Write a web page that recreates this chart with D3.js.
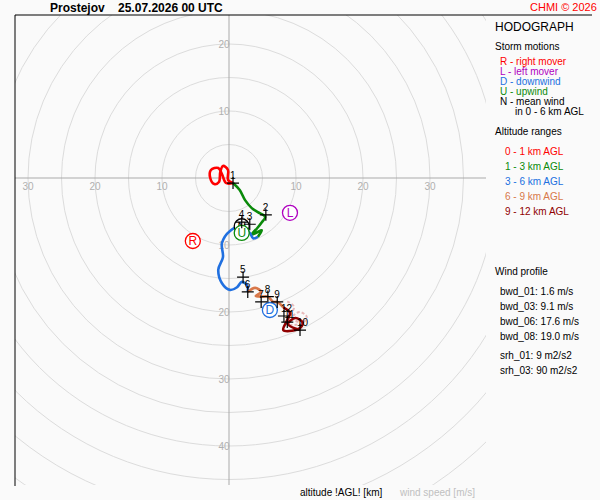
<!DOCTYPE html>
<html><head><meta charset="utf-8">
<script src="https://cdn.jsdelivr.net/npm/d3@7"></script>
<style>body{margin:0;background:#fafafa}text{font-family:"Liberation Sans",Arial,sans-serif}</style>
</head><body><svg id="c" width="600" height="500"></svg>
<script>
// hodograph segments, [u, v] in m/s
var seg01 = [[0.6,-0.75],[-0.45,-0.75],[-1.05,0.6],[-1.6,1.5],[-2.7,1.2],[-2.8,0],[-2.2,-0.9],[-1.5,-0.6],[-1.3,0.9],[-0.9,1.8],[-0.15,1.2],[-0.15,-0.3],[0.6,-0.75]];
var seg13 = [[0.6,-0.75],[1.6,-1.8],[2.4,-3.3],[3.4,-4.5],[4.3,-5.1],[5.4,-5.8],[4.9,-6.6],[4.2,-7.5],[3.4,-8.4],[4.0,-8.2],[4.9,-7.8],[4.3,-8.8]];
var seg36 = [[4.3,-8.8],[3.6,-9.0],[3.1,-8.2],[1.6,-7.3],[0.15,-7.9],[-1.05,-9.7],[-0.9,-11.8],[-1.6,-13.7],[-1.05,-15.7],[0.15,-16.7],[1.2,-16.3],[1.9,-15.5],[2.7,-16.0],[2.8,-17.0]];
var seg69 = [[2.8,-17.0],[3.9,-16.4],[4.8,-17.0],[4.0,-17.6],[4.9,-17.7],[5.8,-17.7],[6.6,-18.5],[7.2,-18.5],[8.1,-19.3]];
var seg912 = [[8.1,-19.3],[9.1,-20.1],[8.7,-21.2],[8.1,-22.7],[9.4,-22.8],[10.6,-22.4],[11.0,-21.6],[9.9,-20.9],[8.8,-21.8],[10.6,-22.7]];
var segColors = ["#ff0000","#0a8a0a","#2070e0","#d8784a","#900000"];
var heights = [1,2,3,4,5,6,7,8,9,10,11,12];
var heightUV = [[0.6,-0.75],[5.5,-5.5],[3.1,-6.9],[1.9,-6.6],[2.1,-14.8],[2.8,-17.0],[4.8,-18.5],[5.8,-17.7],[7.2,-18.5],[10.6,-22.7],[8.7,-21.5],[8.2,-20.6]];
// drawn in this order (N under U)
var stormLetters = ["N","R","L","D","U"];
var stormUV = [[1.9,-7.2],[-5.4,-9.4],[9.1,-5.2],[6.1,-19.7],[1.9,-8.2]];
var stormColors = ["#000000","#ff0000","#b000c0","#2070e0","#0a8a0a"];
var stormNames = ["R - right mover","L - left mover","D - downwind","U - upwind","N - mean wind"];
var stormNameColors = ["#ff0000","#b000c0","#2070e0","#0a8a0a","#000000"];
var ringSpeeds = d3.range(5, 75, 5);
var axisTicks = [10,20,30,40];

var svg = d3.select("#c");
var x = d3.scaleLinear().domain([0,10]).range([229,296]);
var y = d3.scaleLinear().domain([0,10]).range([178,111]);
var pxPer = 6.7;

svg.append("defs").append("clipPath").attr("id","pc").append("rect")
    .attr("x",15).attr("y",15).attr("width",471).attr("height",470);
var plot = svg.append("g").attr("clip-path","url(#pc)");

plot.selectAll("circle.ring").data(ringSpeeds).enter().append("circle")
    .attr("cx",x(0)).attr("cy",y(0)).attr("r",function(d){return d*pxPer;})
    .attr("fill","none").attr("stroke","#dcdcdc");
plot.append("line").attr("x1",15).attr("x2",486).attr("y1",y(0)).attr("y2",y(0)).attr("stroke","#aaa");
plot.append("line").attr("x1",x(0)).attr("x2",x(0)).attr("y1",15).attr("y2",486).attr("stroke","#aaa");

var lab = plot.append("g").attr("fill","#b0b0b0").attr("font-size",10).attr("text-anchor","middle");
axisTicks.forEach(function(t){
    lab.append("text").attr("x",x(-t)).attr("y",y(0)+12).text(t);
    if (t < 40) lab.append("text").attr("x",x(t)).attr("y",y(0)+12).text(t);
    if (t < 30) lab.append("text").attr("x",x(0)-5).attr("y",y(t)+4).text(t);
    lab.append("text").attr("x",x(0)-5).attr("y",y(-t)+4).text(t);
});

var line = d3.line().x(function(d){return x(d[0]);}).y(function(d){return y(d[1]);}).curve(d3.curveCatmullRom);
// faint upper-level trace
plot.append("path").datum(seg912.map(function(d){return [d[0]+0.6,d[1]+0.9];}))
    .attr("d",line).attr("fill","none").attr("stroke","#e8b8b8").attr("stroke-width",2).attr("stroke-dasharray","3,2");
[seg01,seg13,seg36,seg69,seg912].forEach(function(s,i){
    plot.append("path").datum(s).attr("d",line).attr("fill","none")
        .attr("stroke",segColors[i]).attr("stroke-width",2.6).attr("stroke-linejoin","round");
});

var st = plot.selectAll("g.storm").data(stormLetters).enter().append("g")
    .attr("transform",function(d,i){return "translate("+x(stormUV[i][0])+","+y(stormUV[i][1])+")";});
st.append("circle").attr("r",7.5).attr("fill","#fff").attr("stroke",function(d,i){return stormColors[i];}).attr("stroke-width",1.3);
st.append("text").attr("text-anchor","middle").attr("dy","0.36em").attr("font-size",12)
    .attr("fill",function(d,i){return stormColors[i];}).text(function(d){return d;});

var hm = plot.selectAll("g.hm").data(heights).enter().append("g")
    .attr("transform",function(d,i){return "translate("+x(heightUV[i][0])+","+y(heightUV[i][1])+")";});
hm.append("path").attr("d","M-6,0H6M0,-6V6").attr("stroke","#000").attr("stroke-width",1.2);
hm.append("text").attr("x",-3).attr("y",-4).attr("font-size",10).attr("fill","#000").text(function(d){return d;});

svg.append("path").attr("d","M15,486V15H592").attr("fill","none").attr("stroke","#000");

svg.append("text").attr("x",50).attr("y",12).attr("font-size",12).attr("font-weight","bold").attr("xml:space","preserve").text("Prostejov    25.07.2026 00 UTC");
svg.append("text").attr("x",530).attr("y",11).attr("font-size",11).attr("fill","#ff0000").text("CHMI © 2026");

var leg = svg.append("g").attr("font-size",10);
leg.append("text").attr("x",495).attr("y",31).attr("font-size",12).text("HODOGRAPH");
leg.append("text").attr("x",495).attr("y",50).text("Storm motions");
stormNames.forEach(function(n,i){
    leg.append("text").attr("x",500).attr("y",65+i*10).attr("fill",stormNameColors[i]).text(n);
});
leg.append("text").attr("x",515).attr("y",115).text("in 0 - 6 km AGL");
leg.append("text").attr("x",495).attr("y",135).text("Altitude ranges");
var ranges = ["0 - 1","1 - 3","3 - 6","6 - 9","9 - 12"];
ranges.forEach(function(r,i){
    leg.append("text").attr("x",505).attr("y",155+i*15).attr("fill",segColors[i]).text(r+" km AGL");
});
leg.append("text").attr("x",495).attr("y",275).text("Wind profile");
var profile = ["bwd_01: 1.6 m/s","bwd_03: 9.1 m/s","bwd_06: 17.6 m/s","bwd_08: 19.0 m/s"];
profile.forEach(function(p,i){ leg.append("text").attr("x",500).attr("y",295+i*15).text(p); });
var srh = ["srh_01: 9 m2/s2","srh_03: 90 m2/s2"];
srh.forEach(function(p,i){ leg.append("text").attr("x",500).attr("y",359+i*15).text(p); });

svg.append("text").attr("x",300).attr("y",496).attr("font-size",10).text("altitude !AGL! [km]");
svg.append("text").attr("x",400).attr("y",496).attr("font-size",10).attr("fill","#c0c0c0").text("wind speed [m/s]");
</script></body></html>
